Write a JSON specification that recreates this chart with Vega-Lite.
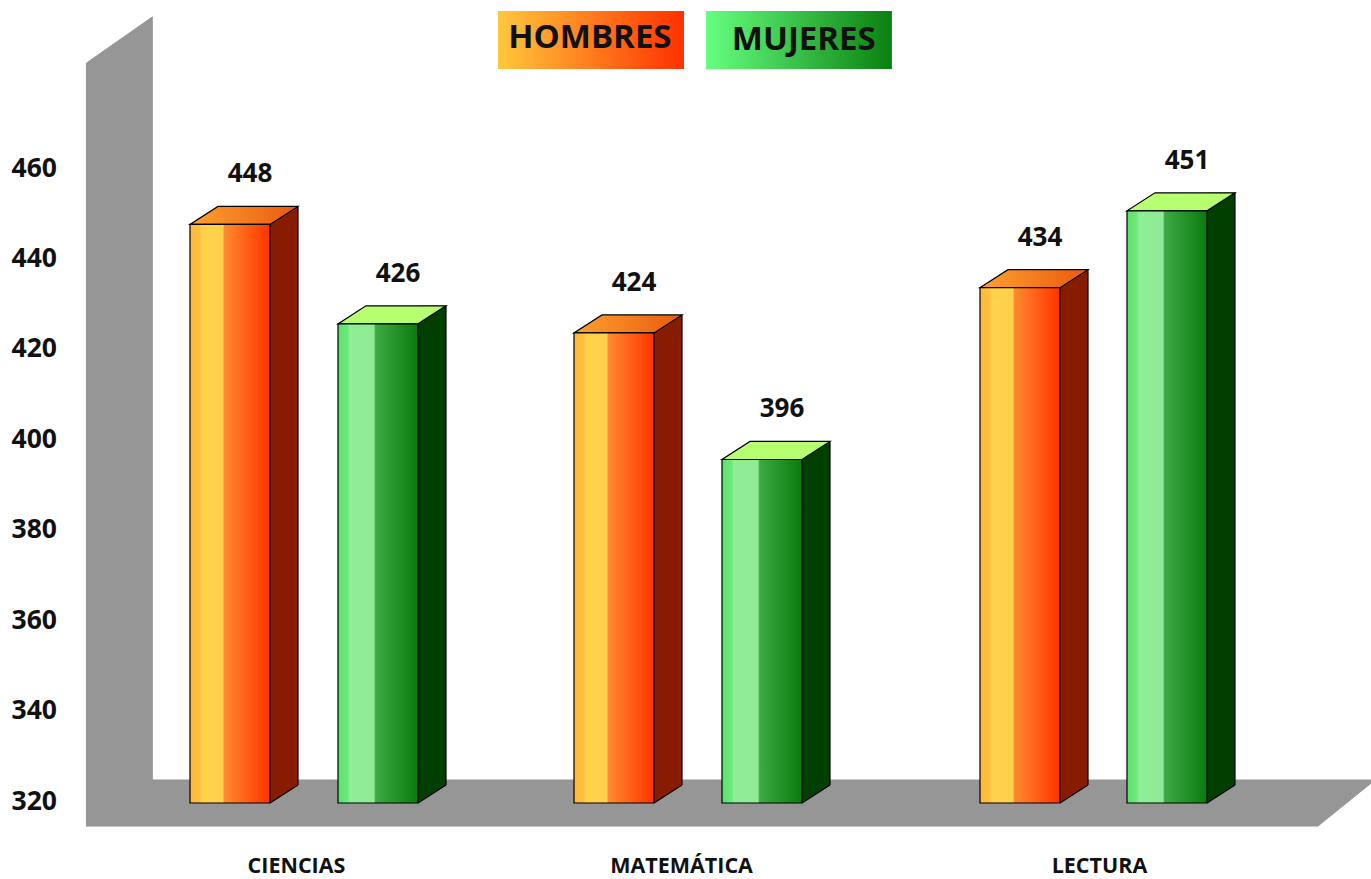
{"$schema":"https://vega.github.io/schema/vega-lite/v6.json","width":1371,"height":879,"autosize":"none","padding":0,"background":"white","config":{"view":{"stroke":null}},"datasets":{"bars":[{"subject":"CIENCIAS","sex":"HOMBRES","orden":1,"value":448},{"subject":"CIENCIAS","sex":"MUJERES","orden":2,"value":426},{"subject":"MATEMÁTICA","sex":"HOMBRES","orden":3,"value":424},{"subject":"MATEMÁTICA","sex":"MUJERES","orden":4,"value":396},{"subject":"LECTURA","sex":"HOMBRES","orden":5,"value":434},{"subject":"LECTURA","sex":"MUJERES","orden":6,"value":451}],"stage":[{"part":"wall","orden":-0.94,"top":483.7,"bottom":314.91},{"part":"wall","orden":-0.05,"top":493.9,"bottom":325.09},{"part":"floor","orden":-0.94,"top":314.91,"bottom":314.91},{"part":"floor","orden":-0.05,"top":325.09,"bottom":314.91},{"part":"floor","orden":8.04,"top":325.09,"bottom":314.91},{"part":"floor","orden":8.81,"top":325.09,"bottom":325.09}],"key":[{"sex":"HOMBRES","orden":2.9025,"labelOrden":2.898,"top":495.2,"bottom":482.4,"labelY":489.25},{"sex":"MUJERES","orden":4.143,"labelOrden":4.162,"top":495.2,"bottom":482.4,"labelY":488.8}]},"layer":[{"data":{"name":"stage"},"mark":{"type":"area","color":"#969696","stroke":"#969696","strokeWidth":1,"interpolate":"linear"},"encoding":{"x":{"field":"orden","type":"quantitative","scale":{"domain":[0,1,2,3,4,5,6,7],"range":[82,230,378,614,762,1020,1167,1315]},"axis":{"values":[1.446,3.453,5.537],"orient":"bottom","title":null,"domain":false,"ticks":false,"grid":false,"labelExpr":"datum.value<2?'CIENCIAS':datum.value<4?'MATEMÁTICA':'LECTURA'","labelPadding":-13,"labelFont":"Open Sans","labelFontWeight":"bold","labelFontSize":21.5,"labelColor":"#111111","labelBaseline":"middle","labelOverlap":false,"labelFlush":false}},"y":{"field":"top","type":"quantitative","scale":{"domain":[303.19,497.65],"nice":false,"zero":false},"axis":{"values":[320,340,360,380,400,420,440,460],"orient":"left","title":null,"domain":false,"ticks":false,"grid":false,"labelAlign":"left","labelPadding":-11,"labelOffset":-2,"labelFont":"Open Sans","labelFontWeight":"bold","labelFontSize":26.5,"labelColor":"#111111"}},"y2":{"field":"bottom"},"detail":{"field":"part"}}},{"data":{"name":"bars"},"mark":{"type":"bar","size":28,"xOffset":54,"yOffset":-18},"encoding":{"x":{"field":"orden","type":"quantitative"},"y":{"field":"value","type":"quantitative"},"y2":{"datum":323.98},"color":{"field":"sex","type":"nominal","legend":null,"scale":{"domain":["HOMBRES","MUJERES"],"range":["#871C00","#003F00"]}}}},{"data":{"name":"bars"},"mark":{"type":"point","filled":true,"size":13000,"opacity":1},"encoding":{"x":{"field":"orden","type":"quantitative"},"y":{"datum":320},"shape":{"value":"M0.702,-0.316H1.193L0.702,0Z"},"fill":{"field":"sex","type":"nominal","legend":null,"scale":{"domain":["HOMBRES","MUJERES"],"range":["#871C00","#003F00"]}}}},{"data":{"name":"bars"},"mark":{"type":"point","filled":false,"size":13000,"opacity":1,"stroke":"black","strokeWidth":1.2,"fill":null},"encoding":{"x":{"field":"orden","type":"quantitative"},"y":{"datum":320},"shape":{"value":"M0.702,0L1.193,-0.316"}}},{"data":{"name":"bars"},"mark":{"type":"rule","xOffset":68,"yOffset":-18,"stroke":"black","strokeWidth":1.2},"encoding":{"x":{"field":"orden","type":"quantitative"},"y":{"field":"value","type":"quantitative"},"y2":{"datum":323.98}}},{"data":{"name":"bars"},"mark":{"type":"point","filled":true,"size":13000,"stroke":"black","strokeWidth":1.2,"opacity":1},"encoding":{"x":{"field":"orden","type":"quantitative"},"y":{"field":"value","type":"quantitative"},"shape":{"value":"M-0.702,0H0.702L1.193,-0.316H-0.211Z"},"fill":{"condition":{"test":"datum.sex=='HOMBRES'","value":{"gradient":"linear","x1":0,"x2":1,"y1":0,"y2":0,"stops":[{"offset":0,"color":"#FFA030"},{"offset":1,"color":"#E85A10"}]}},"value":"#B5FF70"}}},{"data":{"name":"bars"},"mark":{"type":"bar","size":80,"stroke":"black","strokeWidth":1.2},"encoding":{"x":{"field":"orden","type":"quantitative"},"y":{"field":"value","type":"quantitative"},"y2":{"datum":320},"color":{"condition":{"test":"datum.sex=='HOMBRES'","value":{"gradient":"linear","x1":0,"x2":1,"y1":0,"y2":0,"stops":[{"offset":0,"color":"#FFB83A"},{"offset":0.12,"color":"#FFC03E"},{"offset":0.15,"color":"#FFD24D"},{"offset":0.41,"color":"#FFD04A"},{"offset":0.43,"color":"#FF8A30"},{"offset":1,"color":"#FF3300"}]}},"value":{"gradient":"linear","x1":0,"x2":1,"y1":0,"y2":0,"stops":[{"offset":0,"color":"#58E268"},{"offset":0.12,"color":"#70E87C"},{"offset":0.15,"color":"#90EE98"},{"offset":0.45,"color":"#8FEA95"},{"offset":0.47,"color":"#3DAA44"},{"offset":1,"color":"#0A7A0E"}]}}}},{"data":{"name":"key"},"mark":{"type":"bar","size":186},"encoding":{"x":{"field":"orden","type":"quantitative"},"y":{"field":"top","type":"quantitative"},"y2":{"field":"bottom"},"color":{"condition":{"test":"datum.sex=='HOMBRES'","value":{"gradient":"linear","x1":0,"x2":1,"y1":0,"y2":0,"stops":[{"offset":0,"color":"#FFC83C"},{"offset":1,"color":"#FF3000"}]}},"value":{"gradient":"linear","x1":0,"x2":1,"y1":0,"y2":0,"stops":[{"offset":0,"color":"#66FF80"},{"offset":1,"color":"#0A800F"}]}}}},{"data":{"name":"key"},"mark":{"type":"text","font":"Open Sans","fontWeight":"bold","fontSize":33,"color":"#111111"},"encoding":{"x":{"field":"labelOrden","type":"quantitative"},"y":{"field":"labelY","type":"quantitative"},"text":{"field":"sex","type":"nominal"}}},{"data":{"name":"bars"},"mark":{"type":"text","font":"Open Sans","fontWeight":"bold","fontSize":26,"color":"#111111","dx":20,"dy":-50},"encoding":{"x":{"field":"orden","type":"quantitative"},"y":{"field":"value","type":"quantitative"},"text":{"field":"value","type":"quantitative"}}}]}
